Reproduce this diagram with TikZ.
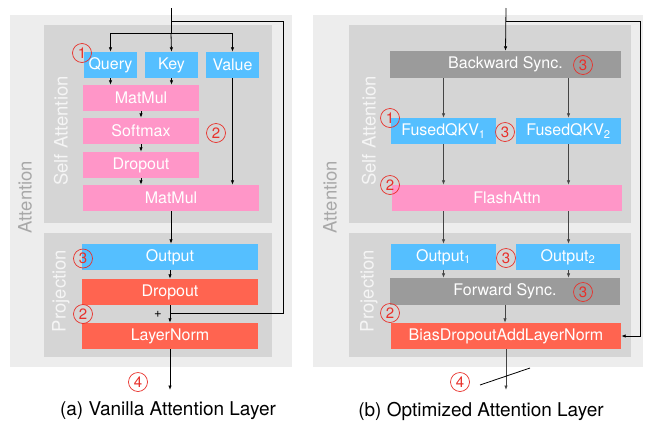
\documentclass[tikz,border=0pt]{standalone}
\usepackage{fontspec}
\setmainfont{TeX Gyre Heros}
\usetikzlibrary{arrows.meta,positioning}
\definecolor{cblue}{HTML}{55BFFF}
\definecolor{cpink}{HTML}{FF96C8}
\definecolor{cred}{HTML}{FF6450}
\definecolor{cgray}{HTML}{9B9B9B}
\definecolor{couter}{HTML}{EDEDED}
\definecolor{cinner}{HTML}{D5D5D5}
\definecolor{cnum}{HTML}{E8302A}
\definecolor{clabel}{HTML}{A8A8A8}
\definecolor{carrow}{HTML}{444444}
\begin{document}
\begin{tikzpicture}[x=1pt,y=-1pt,
  box/.style={draw=none,inner sep=0pt,text=white,font=\fontsize{16}{18}\selectfont,minimum height=26},
  bluebox/.style={box,fill=cblue},
  pinkbox/.style={box,fill=cpink},
  redbox/.style={box,fill=cred},
  graybox/.style={box,fill=cgray,minimum height=27},
  outerbox/.style={fill=couter,draw=none,inner sep=0pt},
  innerbox/.style={fill=cinner,draw=none,inner sep=0pt},
  vlabel/.style={rotate=90,font=\fontsize{18.5}{20}\selectfont,inner sep=0pt},
  num/.style={circle,draw=cnum,line width=0.7pt,text=cnum,inner sep=0pt,minimum size=19,font=\fontsize{15}{15}\selectfont},
  arr/.style={-{Latex[length=4.5,width=3.5]},line width=0.8pt},
  plainline/.style={line width=0.8pt},
  captext/.style={font=\fontsize{19}{22}\selectfont,text=black,inner sep=0pt}
]
\useasboundingbox (0,0) rectangle (650,421);

% ---------------- (a) Vanilla ----------------
\node[outerbox,minimum width=282,minimum height=352] (outerL) at (151,191) {};
\node[innerbox,minimum width=228,minimum height=198] (saL) at (158,124) {};
\node[innerbox,minimum width=228,minimum height=124] (projL) at (158,295) {};
\node[vlabel,text=clabel] (attL) at (25,197) {Attention};
\node[vlabel,text=white!96!black] (saLlab) at (61,131) {Self Attention};
\node[vlabel,text=white!96!black] (projLlab) at (61,291) {Projection};

\node[bluebox,minimum width=53] (q) at (110.5,65) {Query};
\node[bluebox,minimum width=53] (k) at (171.5,65) {Key};
\node[bluebox,minimum width=53] (v) at (232.5,65) {Value};
\node[pinkbox,minimum width=116] (m1) at (141,98) {MatMul};
\node[pinkbox,minimum width=116] (sm) at (141,131) {Softmax};
\node[pinkbox,minimum width=116] (dp) at (141,165) {Dropout};
\node[pinkbox,minimum width=176] (m2) at (171,198) {MatMul};
\node[bluebox,minimum width=176] (o) at (170,257) {Output};
\node[redbox,minimum width=176] (dp2) at (170,292) {Dropout};
\node[redbox,minimum width=176] (lnorm) at (170,336) {LayerNorm};

\coordinate (inL) at (171,8);
\coordinate (jL) at (171,33);
\coordinate (rL) at (171,21);
\coordinate (addL) at (170,313);
\coordinate (outL) at (170,390);

\draw[plainline] (inL) -- (jL);
\draw[plainline] (q.north |- jL) -- (v.north |- jL);
\draw[arr] (q.north |- jL) -- (q.north);
\draw[arr] (jL) -- (k.north);
\draw[arr] (v.north |- jL) -- (v.north);
\draw[plainline] (rL) -| (283,313) -- (addL);
\draw[arr] (q.south) -- (q.south |- m1.north);
\draw[arr] (k.south) -- (k.south |- m1.north);
\draw[arr] (m1.south) -- (sm.north);
\draw[arr] (sm.south) -- (dp.north);
\draw[arr] (dp.south) -- (dp.south |- m2.north);
\draw[arr] (v.south) -- (v.south |- m2.north);
\draw[arr] (m2.south) -- (m2.south |- o.north);
\draw[arr] (o.south) -- (dp2.north);
\draw[arr] (dp2.south) -- (lnorm.north);
\draw[arr] (lnorm.south) -- (outL);
\node[font=\fontsize{13}{13}\selectfont,inner sep=0pt] (plus) at (158,314) {+};

\node[num] (nL1) at (82,53) {1};
\node[num] (nL2) at (216,133) {2};
\node[num] (nL3) at (83,258.5) {3};
\node[num] (nL4) at (83,314) {2};
\node[num] (nL5) at (138,382) {4};
\node[captext] (capL) at (168,411) {(a) Vanilla Attention Layer};

% ---------------- (b) Optimized ----------------
\node[outerbox,minimum width=330,minimum height=352] (outerR) at (478,191) {};
\node[innerbox,minimum width=282,minimum height=198] (saR) at (490,124) {};
\node[innerbox,minimum width=282,minimum height=124] (projR) at (490,295) {};
\node[vlabel,text=clabel] (attR) at (330,197) {Attention};
\node[vlabel,text=white!96!black] (saRlab) at (369,131) {Self Attention};
\node[vlabel,text=white!96!black] (projRlab) at (369,291) {Projection};

\node[graybox,minimum width=231] (bs) at (505.5,64.5) {Backward Sync.};
\node[bluebox,minimum width=105] (fq1) at (443.5,131) {FusedQKV\textsubscript{1}};
\node[bluebox,minimum width=105] (fq2) at (568.5,131) {FusedQKV\textsubscript{2}};
\node[pinkbox,minimum width=230] (fl) at (507,198) {FlashAttn};
\node[bluebox,minimum width=105] (o1) at (443.5,257) {Output\textsubscript{1}};
\node[bluebox,minimum width=104] (o2) at (568,257) {Output\textsubscript{2}};
\node[graybox,minimum width=230] (fw) at (505,291.5) {Forward Sync.};
\node[redbox,minimum width=230] (bd) at (506,336) {BiasDropoutAddLayerNorm};

\coordinate (inR) at (506,8);
\coordinate (rR) at (506,21);
\coordinate (outR) at (506,390);
\coordinate (sl1) at (480,385);
\coordinate (sl2) at (530,368);

\draw[arr] (inR) -- (bs.north);
\draw[arr] (rR) -| (640,336) -- (bd.east);
\draw[arr,carrow] (fq1.north |- bs.south) -- (fq1.north);
\draw[arr,carrow] (fq2.north |- bs.south) -- (fq2.north);
\draw[arr,carrow] (fq1.south) -- (fq1.south |- fl.north);
\draw[arr,carrow] (fq2.south) -- (fq2.south |- fl.north);
\draw[arr,carrow] (o1.north |- fl.south) -- (o1.north);
\draw[arr,carrow] (fq2.south |- fl.south) -- (fq2.south |- o2.north);
\draw[arr,carrow] (o1.south) -- (o1.south |- fw.north);
\draw[arr,carrow] (fq2.south |- o2.south) -- (fq2.south |- fw.north);
\draw[arr,carrow] (fw.south) -- (fw.south |- bd.north);
\draw[arr,carrow] (bd.south) -- (outR);
\draw[plainline] (sl1) -- (sl2);

\node[num] (nR1) at (583,65) {3};
\node[num] (nR2) at (390,118) {1};
\node[num] (nR3) at (505,132) {3};
\node[num] (nR4) at (390,185) {2};
\node[num] (nR5) at (506,258) {3};
\node[num] (nR6) at (583,292) {3};
\node[num] (nR7) at (390,313) {2};
\node[num] (nR8) at (460,382) {4};
\node[captext] (capR) at (481,411) {(b) Optimized Attention Layer};
\end{tikzpicture}
\end{document}
